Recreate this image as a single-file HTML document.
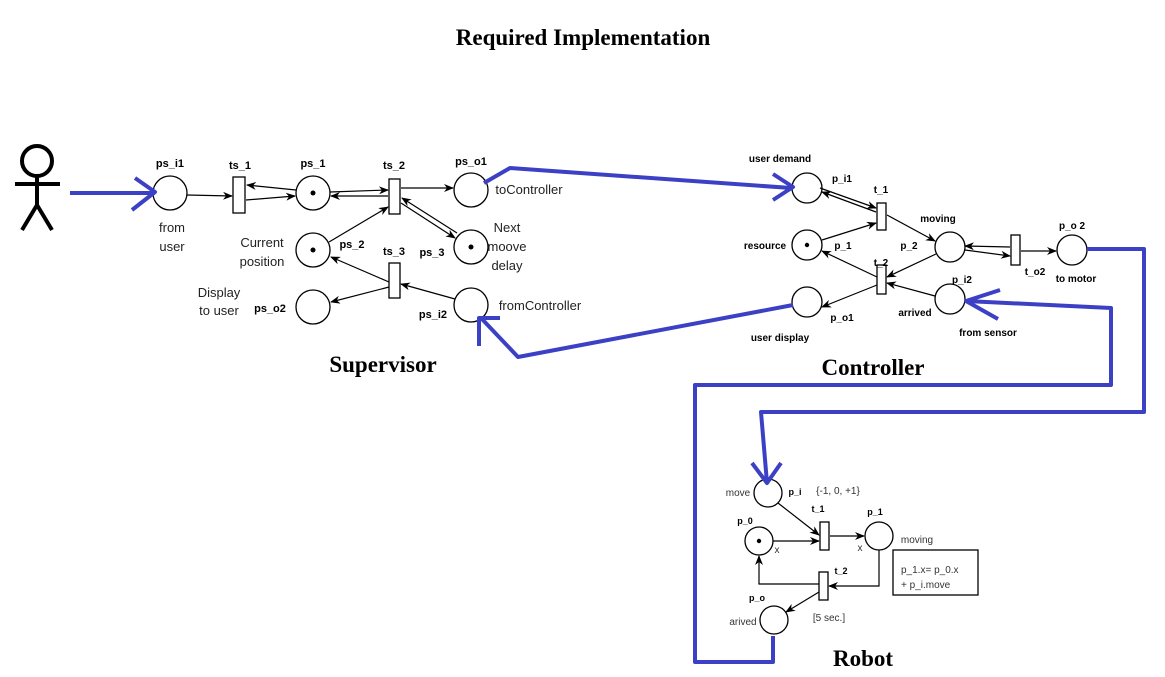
<!DOCTYPE html>
<html><head><style>body{margin:0;background:#fff}svg{display:block}</style></head><body>
<svg width="1165" height="677" xmlns="http://www.w3.org/2000/svg">
<defs><marker id="a" markerWidth="10" markerHeight="8" refX="9" refY="4" orient="auto" markerUnits="userSpaceOnUse"><path d="M0,0 L10,4 L0,8 L3,4z" fill="#000"/></marker></defs>
<g font-family="Liberation Serif,serif" font-weight="bold" text-anchor="middle">
<text x="583" y="45" font-size="23">Required Implementation</text>
<text x="383" y="372" font-size="23">Supervisor</text>
<text x="873" y="375" font-size="23">Controller</text>
<text x="863" y="666" font-size="23">Robot</text>
</g>
<g stroke="#000" stroke-width="4" fill="none"><circle cx="37" cy="161" r="15"/><path d="M37,176V205M15,184H60M37,205L22,230M37,205L52,230"/></g>
<g stroke="#000" stroke-width="1.3" fill="#fff">
<circle cx="170" cy="193" r="17"/><circle cx="313" cy="193" r="17"/><circle cx="471" cy="190" r="17"/>
<circle cx="313" cy="250" r="17"/><circle cx="471" cy="247" r="17"/><circle cx="313" cy="307" r="17"/><circle cx="471" cy="305" r="17"/>
<rect x="233" y="177" width="12" height="36"/><rect x="389" y="179" width="11" height="35"/><rect x="389" y="263" width="11" height="35"/>
<circle cx="807" cy="188" r="15"/><circle cx="807" cy="245" r="15"/><circle cx="807" cy="302" r="15"/>
<circle cx="950" cy="247" r="15"/><circle cx="950" cy="299" r="15"/><circle cx="1072" cy="250" r="15"/>
<rect x="877" y="203" width="9" height="27"/><rect x="877" y="265" width="9" height="29"/><rect x="1011" y="235" width="9" height="30"/>
<circle cx="768" cy="493" r="14"/><circle cx="759" cy="541" r="14"/><circle cx="879" cy="536" r="14"/><circle cx="774" cy="620" r="14"/>
<rect x="820" y="522" width="9" height="28"/><rect x="819" y="572" width="9" height="28"/>
<rect x="893" y="550" width="85" height="45"/>
</g>
<g fill="#000"><circle cx="313" cy="193" r="2.5"/><circle cx="313" cy="250" r="2.5"/><circle cx="471" cy="247" r="2.5"/><circle cx="807" cy="245" r="2.2"/><circle cx="759" cy="541" r="2.2"/></g>
<g stroke="#000" stroke-width="1.2" fill="none" marker-end="url(#a)">
<line x1="187" y1="195" x2="232" y2="196"/><line x1="296" y1="190" x2="247" y2="185"/><line x1="246" y1="200" x2="295" y2="196"/>
<line x1="330" y1="192" x2="388" y2="190"/><line x1="388" y1="196" x2="331" y2="196"/><line x1="401" y1="188" x2="453" y2="188"/>
<line x1="401" y1="203" x2="455" y2="238"/><line x1="457" y1="233" x2="402" y2="198"/><line x1="329" y1="242" x2="388" y2="207"/>
<line x1="389" y1="282" x2="331" y2="257"/><line x1="389" y1="287" x2="331" y2="302"/><line x1="455" y1="299" x2="401" y2="284"/>
<line x1="876" y1="212" x2="822" y2="192"/><line x1="820" y1="188" x2="876" y2="208"/><line x1="822" y1="240" x2="876" y2="223"/>
<line x1="887" y1="215" x2="935" y2="241"/><line x1="936" y1="254" x2="887" y2="277"/><line x1="877" y1="277" x2="822" y2="251"/>
<line x1="877" y1="285" x2="822" y2="307"/><line x1="935" y1="296" x2="887" y2="283"/>
<line x1="1010" y1="247" x2="965" y2="246"/><line x1="965" y1="250" x2="1010" y2="256"/><line x1="1021" y1="251" x2="1056" y2="251"/>
<line x1="778" y1="503" x2="819" y2="535"/><line x1="773" y1="541" x2="819" y2="541"/><line x1="830" y1="536" x2="864" y2="536"/>
<polyline points="879,550 879,586 829,586"/><polyline points="819,584 759,584 759,556"/><line x1="819" y1="592" x2="786" y2="612"/>
</g>
<g stroke="#3b40c4" stroke-width="4" fill="none" stroke-linejoin="round">
<line x1="70" y1="193" x2="155" y2="193"/><polyline points="135,178 155,192 132,210"/>
<polyline points="484,183 510,168 791,188"/><polyline points="773,174 793,187 773,200"/>
<polyline points="793,305 518,357 481,318"/><polyline points="479,346 479,318 500,318"/>
<polyline points="1087,249 1144,249 1144,412 761,412 767,483"/><polyline points="752,463 767,483 781,463"/>
<polyline points="966,301 1111,308 1111,385 695,385 695,662 773,662 773,636"/><polyline points="1000,290 966,301 998,319"/>
</g>
<g font-family="Liberation Sans,sans-serif" font-size="11" font-weight="bold" text-anchor="middle" fill="#000">
<text x="170" y="167">ps_i1</text><text x="240" y="169">ts_1</text><text x="313" y="167">ps_1</text><text x="394" y="169">ts_2</text><text x="471" y="165">ps_o1</text>
<text x="352" y="248">ps_2</text><text x="394" y="255">ts_3</text><text x="432" y="256">ps_3</text><text x="270" y="312">ps_o2</text><text x="433" y="318">ps_i2</text>
<text x="780" y="162" font-size="10">user demand</text><text x="842" y="182" font-size="10">p_i1</text><text x="881" y="193" font-size="10">t_1</text>
<text x="938" y="222" font-size="10">moving</text><text x="765" y="249" font-size="10">resource</text><text x="843" y="249" font-size="10">p_1</text>
<text x="909" y="249" font-size="10">p_2</text><text x="881" y="266" font-size="10">t_2</text><text x="1072" y="229" font-size="10">p_o 2</text>
<text x="1035" y="275" font-size="10">t_o2</text><text x="1076" y="282" font-size="10">to motor</text><text x="962" y="283" font-size="10">p_i2</text>
<text x="915" y="316" font-size="10">arrived</text><text x="842" y="321" font-size="10">p_o1</text><text x="780" y="341" font-size="10">user display</text>
<text x="988" y="336" font-size="10">from sensor</text>
<text x="795" y="495" font-size="9">p_i</text><text x="818" y="512" font-size="9">t_1</text><text x="745" y="524" font-size="9">p_0</text>
<text x="875" y="515" font-size="9">p_1</text><text x="841" y="574" font-size="9">t_2</text><text x="757" y="601" font-size="9">p_o</text>
</g>
<g font-family="Liberation Sans,sans-serif" font-size="13" fill="#222" text-anchor="middle">
<text x="172" y="232">from</text><text x="172" y="251">user</text>
<text x="262" y="247">Current</text><text x="262" y="266">position</text>
<text x="507" y="232">Next</text><text x="507" y="251">moove</text><text x="507" y="270">delay</text>
<text x="219" y="297">Display</text><text x="219" y="315">to user</text>
<text x="529" y="194">toController</text><text x="540" y="310">fromController</text>
</g>
<g font-family="Liberation Sans,sans-serif" font-size="10" fill="#333" text-anchor="middle">
<text x="738" y="496">move</text><text x="838" y="494">{-1, 0, +1}</text><text x="777" y="553">x</text><text x="860" y="551">x</text>
<text x="917" y="543">moving</text><text x="743" y="625">arived</text><text x="829" y="621">[5 sec.]</text>
<text x="901" y="573" text-anchor="start">p_1.x= p_0.x</text><text x="901" y="588" text-anchor="start">+ p_i.move</text>
</g>
</svg>
</body></html>
